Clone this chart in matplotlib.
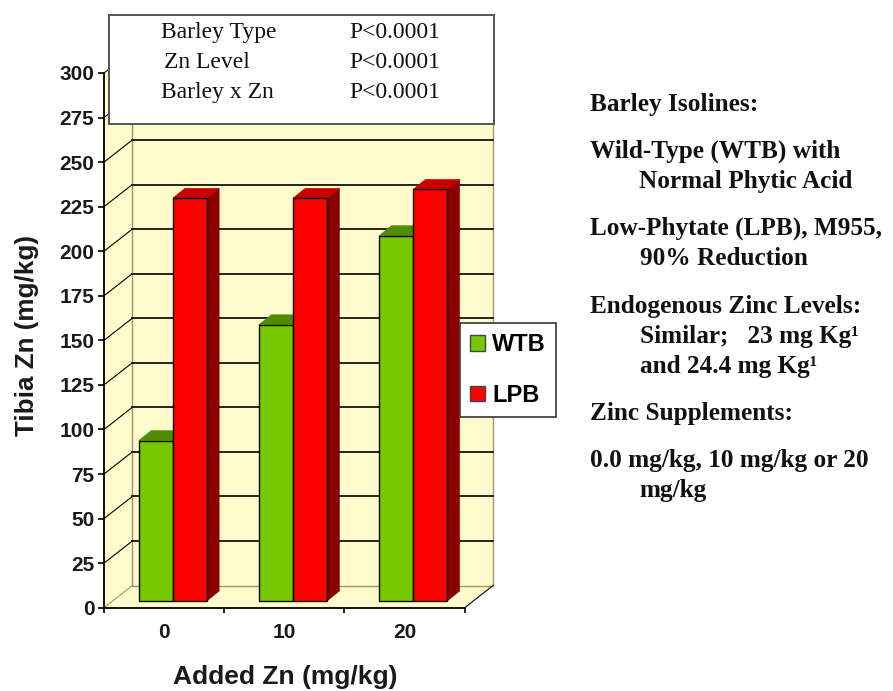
import matplotlib
matplotlib.use("Agg")
import matplotlib.pyplot as plt
from matplotlib.patches import Polygon, Rectangle, Patch

W, H = 893, 691

# Tibia zinc by added zinc level and barley isoline
zn_levels = ["0", "10", "20"]
wtb_values = [90, 155, 205]
lpb_values = [226, 226, 231]
y_ticks = list(range(0, 301, 25))

stats_rows = [("Barley Type", "P<0.0001"), ("Zn Level", "P<0.0001"), ("Barley x Zn", "P<0.0001")]

# Text, left edge and baseline of each side note
notes = [
    ("Barley Isolines:", 590, 111),
    ("Wild-Type (WTB) with", 590, 158),
    ("Normal Phytic Acid", 639, 188),
    ("Low-Phytate (LPB), M955,", 590, 235),
    ("90% Reduction", 640, 265),
    ("Endogenous Zinc Levels:", 590, 313),
    ("Similar;   23 mg Kg\u00b9", 640, 343),
    ("and 24.4 mg Kg\u00b9", 640, 373),
    ("Zinc Supplements:", 590, 420),
    ("0.0 mg/kg, 10 mg/kg or 20", 590, 467),
    ("mg/kg", 639, 497),
]

CREAM = "#FFFBCC"
WALL_EDGE = "#9C9668"
GREEN = ("#76C800", "#4E8C00", "#3F7000")
RED = ("#FF0000", "#C80000", "#8B0000")
SANS = "Liberation Sans"
SERIF = "Liberation Serif"


def fx(x):
    return x / W


def fy(y):
    return 1 - y / H


fig = plt.figure(figsize=(W / 100, H / 100), dpi=100, facecolor="white")
ax = fig.add_axes([fx(104), fy(607.7), (464.7 - 104) / W, (607.7 - 73) / H])
ax.set_xlim(0, 3)
ax.set_ylim(0, 300)
ax.patch.set_visible(False)

# Oblique projection of the chart box
DX, DY = 0.235, 12.4
TOP = y_ticks[-1]

ax.add_patch(Polygon([(0, 0), (DX, DY), (DX, TOP + DY), (0, TOP)], fc=CREAM, ec="none", clip_on=False, zorder=1))
ax.add_patch(Polygon([(0, 0), (3, 0), (3 + DX, DY), (DX, DY)], fc=CREAM, ec="none", clip_on=False, zorder=1))
ax.add_patch(Rectangle((DX, DY), 3, TOP, fc=CREAM, ec=WALL_EDGE, lw=1.0, clip_on=False, zorder=1))

for v in y_ticks:
    ax.plot([0, DX], [v, v + DY], color="black" if v else WALL_EDGE, lw=0.8, clip_on=False, zorder=1.5)
    if v:
        ax.plot([DX, 3 + DX], [v + DY, v + DY], color="black", lw=1.2, clip_on=False, zorder=1.5)
ax.plot([3, 3 + DX], [0, DY], color="black", lw=0.8, clip_on=False, zorder=1.5)

# Bars sit 30% of the way into the box
BAR_W = 0.283
BAR_DX, BAR_DY = 0.104, 5.6
SHIFT_X, SHIFT_Y = 0.3 * DX, 0.3 * DY


def bar3d(x0, value, colours, z):
    front, top, side = colours
    x0 += SHIFT_X
    x1 = x0 + BAR_W
    b, t = SHIFT_Y, SHIFT_Y + value
    ax.add_patch(Polygon([(x1, b), (x1 + BAR_DX, b + BAR_DY), (x1 + BAR_DX, t + BAR_DY), (x1, t)],
                         fc=side, ec=side, lw=0.4, clip_on=False, zorder=z))
    ax.add_patch(Polygon([(x0, t), (x1, t), (x1 + BAR_DX, t + BAR_DY), (x0 + BAR_DX, t + BAR_DY)],
                         fc=top, ec=top, lw=0.4, clip_on=False, zorder=z))
    ax.add_patch(Polygon([(x0, b), (x1, b), (x1, t), (x0, t)],
                         fc=front, ec="black", lw=1.0, clip_on=False, zorder=z))


for i, (wtb, lpb) in enumerate(zip(wtb_values, lpb_values)):
    centre = i + 0.5
    bar3d(centre - BAR_W, wtb, GREEN, 3 + i * 0.1)
    bar3d(centre, lpb, RED, 3.05 + i * 0.1)

# Axes, ticks and tick labels
for side in ("top", "right"):
    ax.spines[side].set_visible(False)
for side in ("left", "bottom"):
    ax.spines[side].set_linewidth(1.3)
    ax.spines[side].set_zorder(2.5)
ax.set_yticks(y_ticks)
ax.set_xticks(range(4))
ax.set_xticklabels([])
ax.set_xticks([i + 0.5 for i in range(3)], minor=True)
ax.set_xticklabels(zn_levels, minor=True)
ax.tick_params(axis="x", which="major", length=3.8, width=1.2)
ax.tick_params(axis="x", which="minor", length=0, pad=11)
ax.tick_params(axis="y", length=4.5, width=1.2, pad=2.5)
for lab in ax.get_yticklabels() + ax.get_xticklabels(minor=True):
    lab.set_fontfamily(SANS)
    lab.set_fontweight("bold")
    lab.set_fontsize(15)
    lab.set_color("#1a1a1a")

fig.text(fx(285), fy(677), "Added Zn (mg/kg)", family=SANS, weight="bold", fontsize=19,
         color="#1a1a1a", ha="center", va="center")
fig.text(fx(27), fy(336), "Tibia Zn (mg/kg)", family=SANS, weight="bold", fontsize=18.7,
         color="#1a1a1a", ha="center", va="center", rotation=90)

# Statistics box across the top of the plot
ax.add_patch(Rectangle((fx(109), fy(123.5)), (494 - 109) / W, (123.5 - 15) / H, transform=fig.transFigure,
                       fc="white", ec="#555555", lw=1.4, clip_on=False, zorder=10))
for (name, p), y, x in zip(stats_rows, (38, 68, 98), (161, 164, 161)):
    ax.text(fx(x), fy(y), name, transform=fig.transFigure, family=SERIF, fontsize=17, color="#111111",
            va="baseline", zorder=11)
    ax.text(fx(349), fy(y), p, transform=fig.transFigure, family=SERIF, fontsize=17, color="#111111",
            va="baseline", zorder=11)

# Legend
handles = [Patch(fc=GREEN[0], ec="#444444", label="WTB"), Patch(fc=RED[0], ec="#444444", label="LPB")]
leg = fig.legend(handles=handles, loc="center", bbox_to_anchor=(fx(508), fy(370)), fancybox=False,
                 framealpha=1, edgecolor="#444444", handlelength=0.62, handleheight=0.62, handletextpad=0.3,
                 labelspacing=1.15, borderpad=0.45, borderaxespad=0,
                 prop=dict(family=SANS, weight="bold", size=17))
leg.get_frame().set_linewidth(1.3)
leg.set_zorder(20)

# Notes on the right
for text, x, y in notes:
    fig.text(fx(x), fy(y), text, family=SERIF, weight="bold", fontsize=18.2, color="#111111", va="baseline")

fig.savefig("out.png", dpi=100)
